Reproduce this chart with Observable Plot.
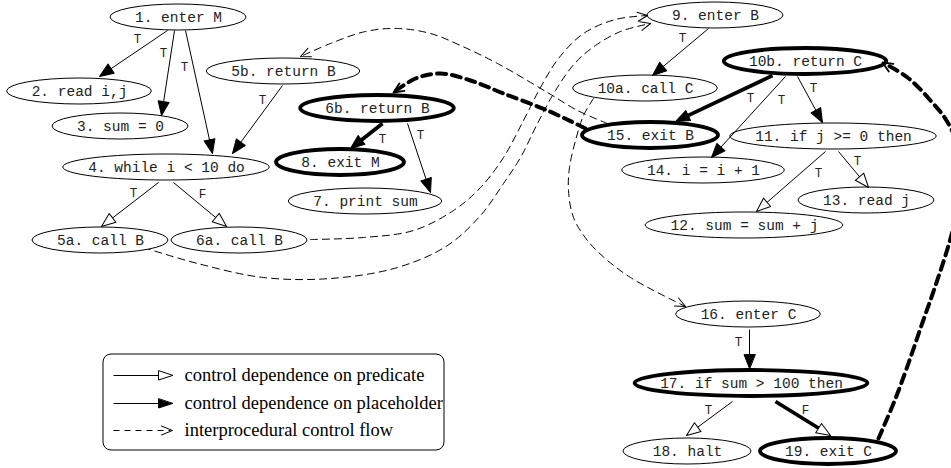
<!DOCTYPE html>
<html>
<head>
<meta charset="utf-8">
<script src="https://cdn.jsdelivr.net/npm/d3@7"></script>
<script src="https://cdn.jsdelivr.net/npm/@observablehq/plot@0.6"></script>
<style>
  html, body { margin: 0; padding: 0; background: #fff; overflow: hidden; }
  #chart svg { display: block; overflow: hidden; }
</style>
</head>
<body>
<div id="chart"></div>
<script>
// ---------------- data ----------------
const nodeIds    = ["1","2","3","4","5a","6a","5b","6b","8","7","9","10b","10a","15","11","14","13","12","16","17","18","19"];
const nodeLabels = ["1. enter M","2. read i,j","3. sum = 0","4. while i < 10 do","5a. call B","6a. call B",
                    "5b. return B","6b. return B","8. exit M","7. print sum","9. enter B","10b. return C",
                    "10a. call C","15. exit B","11. if j >= 0 then","14. i = i + 1","13. read j",
                    "12. sum = sum + j","16. enter C","17. if sum > 100 then","18. halt","19. exit C"];
const nodeX = [178, 79,120,166,100,239,283,377,340,365,715,805,645,650,833,703,866,744,748,751,687,828];
const nodeY = [ 17, 91,126,167,240,240, 71,108,162,201, 15, 61, 88,135,136,170,200,225,314,383,451,451];
const placeholderPath = ["6b","8","10b","15","17","19"];
const predicates = ["4","11","17"];

// control dependence edges
const edgeFrom  = ["1","1","1","5b","4","4","6b","6b","9","10b","10b","10b","11","11","16","17","17"];
const edgeTo    = ["2","3","4","4","5a","6a","8","7","10a","15","14","11","12","13","17","18","19"];
const edgeLabel = ["T","T","T","T","T","F","T","T","T","T","T","T","T","T","T","T","F"];
const edgeStart = [[167,30],[174,30],[185,30],[282,85],[158,182],[173,182],[382,123],[407,123],[708,28],
                   [772,75],[785,76],[797,76],[825,151],[838,151],[749,329],[732,401],[775,401]];
const edgeEnd   = [[99,76],[161,115],[212,153],[232,153],[101,226],[226,226],[350,148],[430,192],[652,75],
                   [675,121],[711,157],[822,122],[756,211],[868,187],[749,368],[686,435],[830,435]];
const edgeLabelAt = [[137,38],[163,52],[184,66],[262,99],[133,192],[202,193],[382,138],[420,134],[682,37],
                     [750,97],[781,99],[813,87],[818,172],[857,160],[738,341],[708,409],[805,409]];

// interprocedural control flow
const flowFrom = ["5a","6a","15","15","10a","19"];
const flowTo   = ["9","9","5b","6b","16","10b"];
const flowRoutes = [
  [[143,247],[197,263],[263,277],[330,278],[397,267],[447,245],[480,215],[503,183],[520,157],[537,123],[555,90],[575,62],[595,45],[620,31],[650,23]],
  [[310,239],[363,237],[413,230],[453,210],[480,187],[503,157],[523,120],[540,87],[558,58],[583,33],[615,19],[647,15]],
  [[607,123],[577,110],[547,92],[497,63],[460,45],[430,33],[397,28],[365,31],[330,43],[300,56]],
  [[585,128],[547,110],[503,93],[470,80],[440,73],[415,78],[393,92]],
  [[593,98],[583,115],[575,140],[569,167],[568,190],[573,217],[587,240],[607,260],[630,277],[657,292],[685,306]],
  [[878,438],[895,398],[910,357],[922,322],[934,288],[950,238],[961,190],[957,145],[946,120],[930,100],[907,77],[882,62]]
];

// legend
const legendLabels = ["control dependence on predicate","control dependence on placeholder","interprocedural control flow"];
const legendKinds  = ["predicate","placeholder","flow"];

// ---------------- layout constants ----------------
const NODE_RY = 13;
const legendBox = {x1: 103, x2: 444, y1: 354, y2: 450};
const legendRowY = [375, 403, 430];
const legendLine = {x1: 113, x2: 172, text: 184};

// ---------------- derived tables ----------------
const isBold = id => placeholderPath.includes(id);
const nodes = nodeIds.map((id, i) => {
  const label = nodeLabels[i];
  const rx = Math.max(64, 4.4 * label.length + 24);
  return {id, label, x: nodeX[i], y: nodeY[i], x1: nodeX[i] - rx, x2: nodeX[i] + rx,
          y1: nodeY[i] - NODE_RY, y2: nodeY[i] + NODE_RY, bold: isBold(id)};
});

function headGeom(x1, y1, x2, y2, len) {
  const dx = x2 - x1, dy = y2 - y1, d = Math.hypot(dx, dy);
  return {angle: Math.atan2(dx, -dy) * 180 / Math.PI,
          sx: x2 - dx / d * len * 0.85, sy: y2 - dy / d * len * 0.85};
}

const HEAD_LEN = 14;
const edges = edgeFrom.map((f, i) => {
  const t = edgeTo[i];
  const [x1, y1] = edgeStart[i], [x2, y2] = edgeEnd[i];
  const g = headGeom(x1, y1, x2, y2, HEAD_LEN);
  return {from: f, to: t, label: edgeLabel[i], x1, y1, x2, y2, sx: g.sx, sy: g.sy, angle: g.angle,
          lx: edgeLabelAt[i][0], ly: edgeLabelAt[i][1],
          bold: isBold(f) && isBold(t), hollow: predicates.includes(f)};
});

const flowPoints = [];
const flowHeads = [];
flowRoutes.forEach((route, k) => {
  const bold = isBold(flowFrom[k]) && isBold(flowTo[k]);
  route.forEach(([x, y]) => flowPoints.push({k, x, y, bold}));
  const [a, b] = [route[route.length - 2], route[route.length - 1]];
  flowHeads.push({x: b[0], y: b[1], angle: headGeom(a[0], a[1], b[0], b[1], 10).angle, bold});
});

const legendRows = legendLabels.map((label, i) => ({label, kind: legendKinds[i], y: legendRowY[i]}));

// ---------------- shapes ----------------
const triangle = hw => ({draw(ctx, l) { ctx.moveTo(0, -l); ctx.lineTo(hw, 0); ctx.lineTo(-hw, 0); ctx.closePath(); }});
const chevron  = hw => ({draw(ctx, l) { ctx.moveTo(-hw, 0); ctx.lineTo(0, -l); ctx.lineTo(hw, 0); }});

const MONO = "'Liberation Mono', 'DejaVu Sans Mono', monospace";
const SERIF = "'Liberation Serif', 'DejaVu Serif', serif";

const chart = Plot.plot({
  width: 951,
  height: 468,
  margin: 0,
  x: {domain: [0, 951], range: [0, 951], axis: null},
  y: {domain: [0, 468], range: [0, 468], axis: null},
  style: {background: "white", overflow: "hidden"},
  marks: [
    // interprocedural flow (dashed curves)
    Plot.line(flowPoints.filter(d => !d.bold), {x: "x", y: "y", z: "k", curve: "catmull-rom",
      stroke: "black", strokeWidth: 1, strokeDasharray: "7,5"}),
    Plot.line(flowPoints.filter(d => d.bold), {x: "x", y: "y", z: "k", curve: "catmull-rom",
      stroke: "black", strokeWidth: 4, strokeDasharray: "9,6"}),
    // nodes (ellipses)
    Plot.rect(nodes.filter(d => !d.bold), {x1: "x1", x2: "x2", y1: "y1", y2: "y2", rx: 500, ry: 500,
      fill: "white", stroke: "black", strokeWidth: 1}),
    Plot.rect(nodes.filter(d => d.bold), {x1: "x1", x2: "x2", y1: "y1", y2: "y2", rx: 500, ry: 500,
      fill: "white", stroke: "black", strokeWidth: 3.8}),
    // flow arrowheads
    Plot.vector(flowHeads.filter(d => !d.bold), {x: "x", y: "y", rotate: "angle", length: 10, anchor: "end",
      shape: chevron(4.5), stroke: "black", strokeWidth: 1, fill: "none"}),
    Plot.vector(flowHeads.filter(d => d.bold), {x: "x", y: "y", rotate: "angle", length: 10, anchor: "end",
      shape: chevron(4.5), stroke: "black", strokeWidth: 1.8, fill: "none"}),
    // control dependence shafts
    Plot.link(edges.filter(d => !d.bold), {x1: "x1", y1: "y1", x2: "sx", y2: "sy", stroke: "black", strokeWidth: 1}),
    Plot.link(edges.filter(d => d.bold), {x1: "x1", y1: "y1", x2: "sx", y2: "sy", stroke: "black", strokeWidth: 3.8}),
    // control dependence heads
    Plot.vector(edges.filter(d => !d.hollow), {x: "x2", y: "y2", rotate: "angle", length: HEAD_LEN, anchor: "end",
      shape: triangle(5.5), stroke: "black", strokeWidth: 1, fill: "black"}),
    Plot.vector(edges.filter(d => d.hollow), {x: "x2", y: "y2", rotate: "angle", length: HEAD_LEN, anchor: "end",
      shape: triangle(5.5), stroke: "black", strokeWidth: 1, fill: "white"}),
    // labels
    Plot.text(nodes, {x: "x", y: "y", text: "label", fontFamily: MONO, fontSize: 14.5, fill: "#222"}),
    Plot.text(edges, {x: "lx", y: "ly", text: "label", fontFamily: MONO, fontSize: 12.5, fill: "#222"}),
    // legend
    Plot.rect([legendBox], {x1: "x1", x2: "x2", y1: "y1", y2: "y2", rx: 8, ry: 8,
      fill: "white", stroke: "black", strokeWidth: 1}),
    Plot.link(legendRows.filter(d => d.kind !== "flow"), {x1: () => legendLine.x1, x2: () => legendLine.x2 - 12,
      y1: "y", y2: "y", stroke: "black", strokeWidth: 1}),
    Plot.link(legendRows.filter(d => d.kind === "flow"), {x1: () => legendLine.x1, x2: () => legendLine.x2 - 2,
      y1: "y", y2: "y", stroke: "black", strokeWidth: 1, strokeDasharray: "6,5"}),
    Plot.vector(legendRows.filter(d => d.kind === "predicate"), {x: () => legendLine.x2, y: "y", rotate: 90,
      length: 14, anchor: "end", shape: triangle(4.5), stroke: "black", strokeWidth: 1, fill: "white"}),
    Plot.vector(legendRows.filter(d => d.kind === "placeholder"), {x: () => legendLine.x2, y: "y", rotate: 90,
      length: 14, anchor: "end", shape: triangle(4.5), stroke: "black", strokeWidth: 1, fill: "black"}),
    Plot.vector(legendRows.filter(d => d.kind === "flow"), {x: () => legendLine.x2, y: "y", rotate: 90,
      length: 11, anchor: "end", shape: chevron(4.5), stroke: "black", strokeWidth: 1, fill: "none"}),
    Plot.text(legendRows, {x: () => legendLine.text, y: "y", text: "label", textAnchor: "start",
      fontFamily: SERIF, fontSize: 18.5, fill: "black"})
  ]
});
document.getElementById("chart").appendChild(chart);
</script>
</body>
</html>
